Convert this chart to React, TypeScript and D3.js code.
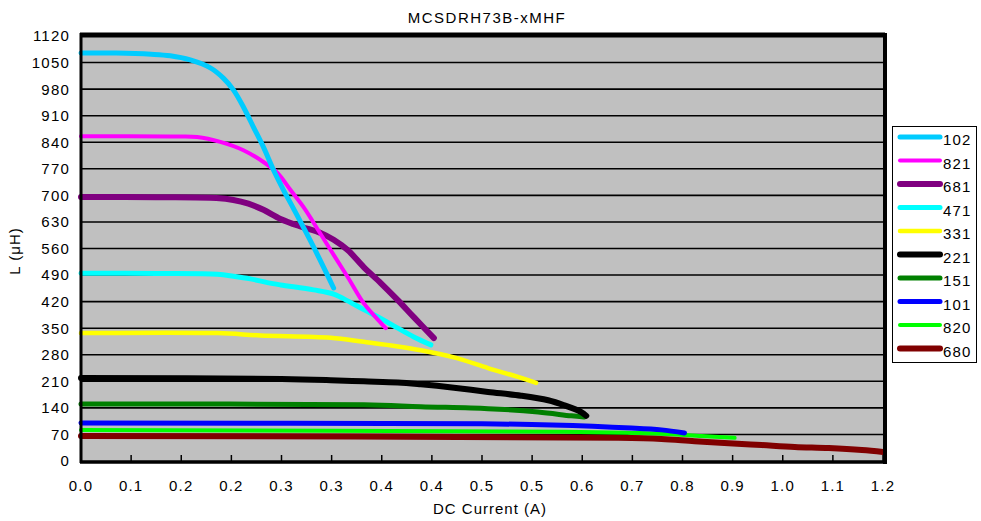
import { scaleLinear, line, curveCatmullRom } from 'd3';

// x values are in tick positions (the axis is labelled per tick, not linearly)
const xTickLabels = ['0.0', '0.1', '0.2', '0.2', '0.3', '0.3', '0.4', '0.4', '0.5', '0.5', '0.6', '0.7', '0.8', '0.9', '1.0', '1.1', '1.2'];
const yTicks = [0, 70, 140, 210, 280, 350, 420, 490, 560, 630, 700, 770, 840, 910, 980, 1050, 1120];

const seriesNames = ['102', '821', '681', '471', '331', '221', '151', '101', '820', '680'];
const seriesColors = ['#00CCFF', '#FF00FF', '#800080', '#00FFFF', '#FFFF00', '#000000', '#008000', '#0000FF', '#00FF00', '#800000'];
const seriesWidths = [5, 4, 6, 5, 4.5, 6, 5, 5, 4, 6];

const s102: [number, number][] = [[0, 1075], [0.7, 1075], [1.4, 1072], [1.78, 1068], [2.18, 1057], [2.58, 1036], [2.84, 1009], [3.04, 978], [3.24, 933], [3.44, 880], [3.64, 827], [3.84, 767], [4.04, 714], [4.24, 665], [4.64, 564], [5.04, 456]];
const s821: [number, number][] = [[0, 856], [1.78, 855], [2.32, 854], [2.78, 841], [3.24, 819], [3.64, 788], [3.92, 759], [4.18, 714], [4.44, 669], [4.64, 628], [4.98, 556], [5.32, 485], [5.64, 416], [5.98, 364], [6.08, 350]];
const s681: [number, number][] = [[0, 696], [1.5, 695], [2.7, 693], [3.04, 688], [3.34, 678], [3.64, 662], [3.98, 638], [4.38, 618], [4.78, 601], [5.04, 583], [5.32, 556], [5.64, 511], [5.98, 469], [6.32, 424], [6.64, 379], [7.04, 324]];
const s471: [number, number][] = [[0, 495], [1.52, 494], [2.72, 492], [3.04, 487], [3.38, 480], [3.72, 470], [3.98, 464], [4.64, 451], [5.04, 440], [5.32, 422], [5.64, 399], [5.98, 376], [6.32, 350], [6.64, 327], [6.98, 306]];
const s331: [number, number][] = [[0, 337], [2.72, 337], [3.58, 331], [4.98, 325], [5.64, 314], [6.32, 302], [6.78, 292], [7.44, 273], [8.12, 245], [8.78, 219], [9.08, 206]];
const s221: [number, number][] = [[0, 219], [4.0, 216], [4.98, 213], [5.64, 210], [6.32, 207], [6.78, 202], [7.44, 193], [8.12, 182], [8.78, 172], [9.32, 160], [9.64, 147], [9.98, 129], [10.08, 119]];
const s151: [number, number][] = [[0, 150], [5.64, 148], [6.78, 143], [8.12, 138], [9.12, 129], [9.78, 119], [10.04, 116]];
const s101: [number, number][] = [[0, 100], [8.0, 98], [9.4, 95], [10.98, 87], [11.58, 82], [12.04, 74]];
const s820: [number, number][] = [[0, 82], [9.64, 77], [10.98, 74], [11.58, 72], [12.38, 66], [13.04, 61]];
const s680: [number, number][] = [[0, 66], [10.72, 61], [11.58, 58], [12.24, 52], [12.92, 47], [13.58, 42], [14.24, 37], [14.92, 34], [15.58, 29], [16.0, 24]];

const seriesData = [s102, s821, s681, s471, s331, s221, s151, s101, s820, s680];

const font = '"Liberation Sans", Arial, sans-serif';

export default function App() {
  const width = 981;
  const height = 521;
  const left = 81;
  const right = 883;
  const top = 36;
  const bottom = 461;

  const x = scaleLinear().domain([0, xTickLabels.length - 1]).range([left, right]);
  const y = scaleLinear().domain([0, 1120]).range([bottom, top]);

  const path = line<[number, number]>()
    .x(d => x(d[0]))
    .y(d => y(d[1]))
    .curve(curveCatmullRom.alpha(0.5));

  // draw order: back series first so the top-of-legend ones sit on top
  const order = [9, 8, 7, 6, 5, 4, 3, 2, 1, 0];

  return (
    <svg width={width} height={height} style={{ position: 'absolute', left: 0, top: 0 }}>
      <rect width={width} height={height} fill="#fff" />
      <text x={487} y={23} textAnchor="middle" fontFamily={font} fontSize={15} letterSpacing={1.5} fill="#000">
        MCSDRH73B-xMHF
      </text>

      {/* plot area */}
      <rect x={left} y={top} width={right - left} height={bottom - top} fill="#C0C0C0" />
      {yTicks.slice(1).map(t => (
        <line key={t} x1={left} x2={right} y1={y(t)} y2={y(t)} stroke="#000" strokeWidth={1.6} />
      ))}
      {xTickLabels.map((_, i) => (
        <line key={i} x1={x(i)} x2={x(i)} y1={bottom} y2={bottom - 6} stroke="#000" strokeWidth={1.5} />
      ))}

      {order.map(i => (
        <path key={seriesNames[i]} d={path(seriesData[i]) || ''} fill="none"
          stroke={seriesColors[i]} strokeWidth={seriesWidths[i]} strokeLinecap="round" strokeLinejoin="round" />
      ))}

      {/* frame */}
      <line x1={left - 1} x2={right + 2} y1={top - 1} y2={top - 1} stroke="#000" strokeWidth={5} />
      <line x1={left} x2={left} y1={top - 3} y2={bottom + 2} stroke="#000" strokeWidth={3} />
      <line x1={right + 2} x2={right + 2} y1={top - 3} y2={bottom + 3} stroke="#000" strokeWidth={4} />
      <line x1={left - 1} x2={right + 4} y1={bottom + 1} y2={bottom + 1} stroke="#000" strokeWidth={3.5} />

      {/* y labels */}
      {yTicks.map(t => (
        <text key={t} x={70} y={y(t)} dy="0.36em" textAnchor="end" fontFamily={font} fontSize={15} letterSpacing={1.2} fill="#000">
          {t}
        </text>
      ))}
      {/* x labels */}
      {xTickLabels.map((l, i) => (
        <text key={i} x={x(i)} y={491} textAnchor="middle" fontFamily={font} fontSize={15} letterSpacing={1.2} fill="#000">
          {l}
        </text>
      ))}

      <text x={490} y={514} textAnchor="middle" fontFamily={font} fontSize={15} letterSpacing={1} fill="#000">
        DC Current (A)
      </text>
      <text transform="translate(20,251) rotate(-90)" textAnchor="middle" fontFamily={font} fontSize={15} letterSpacing={1} fill="#000">
        L (μH)
      </text>

      {/* legend */}
      <rect x={892.5} y={126.5} width={84} height={236} fill="#fff" stroke="#000" strokeWidth={1} />
      {seriesNames.map((n, i) => {
        const ly = 137 + i * 23.5;
        return (
          <g key={n}>
            <line x1={900} x2={940} y1={ly} y2={ly} stroke={seriesColors[i]} strokeWidth={seriesWidths[i]} strokeLinecap="round" />
            <text x={943} y={ly} dy="0.55em" fontFamily={font} fontSize={15} letterSpacing={1.2} fill="#000">
              {n}
            </text>
          </g>
        );
      })}
    </svg>
  );
}
